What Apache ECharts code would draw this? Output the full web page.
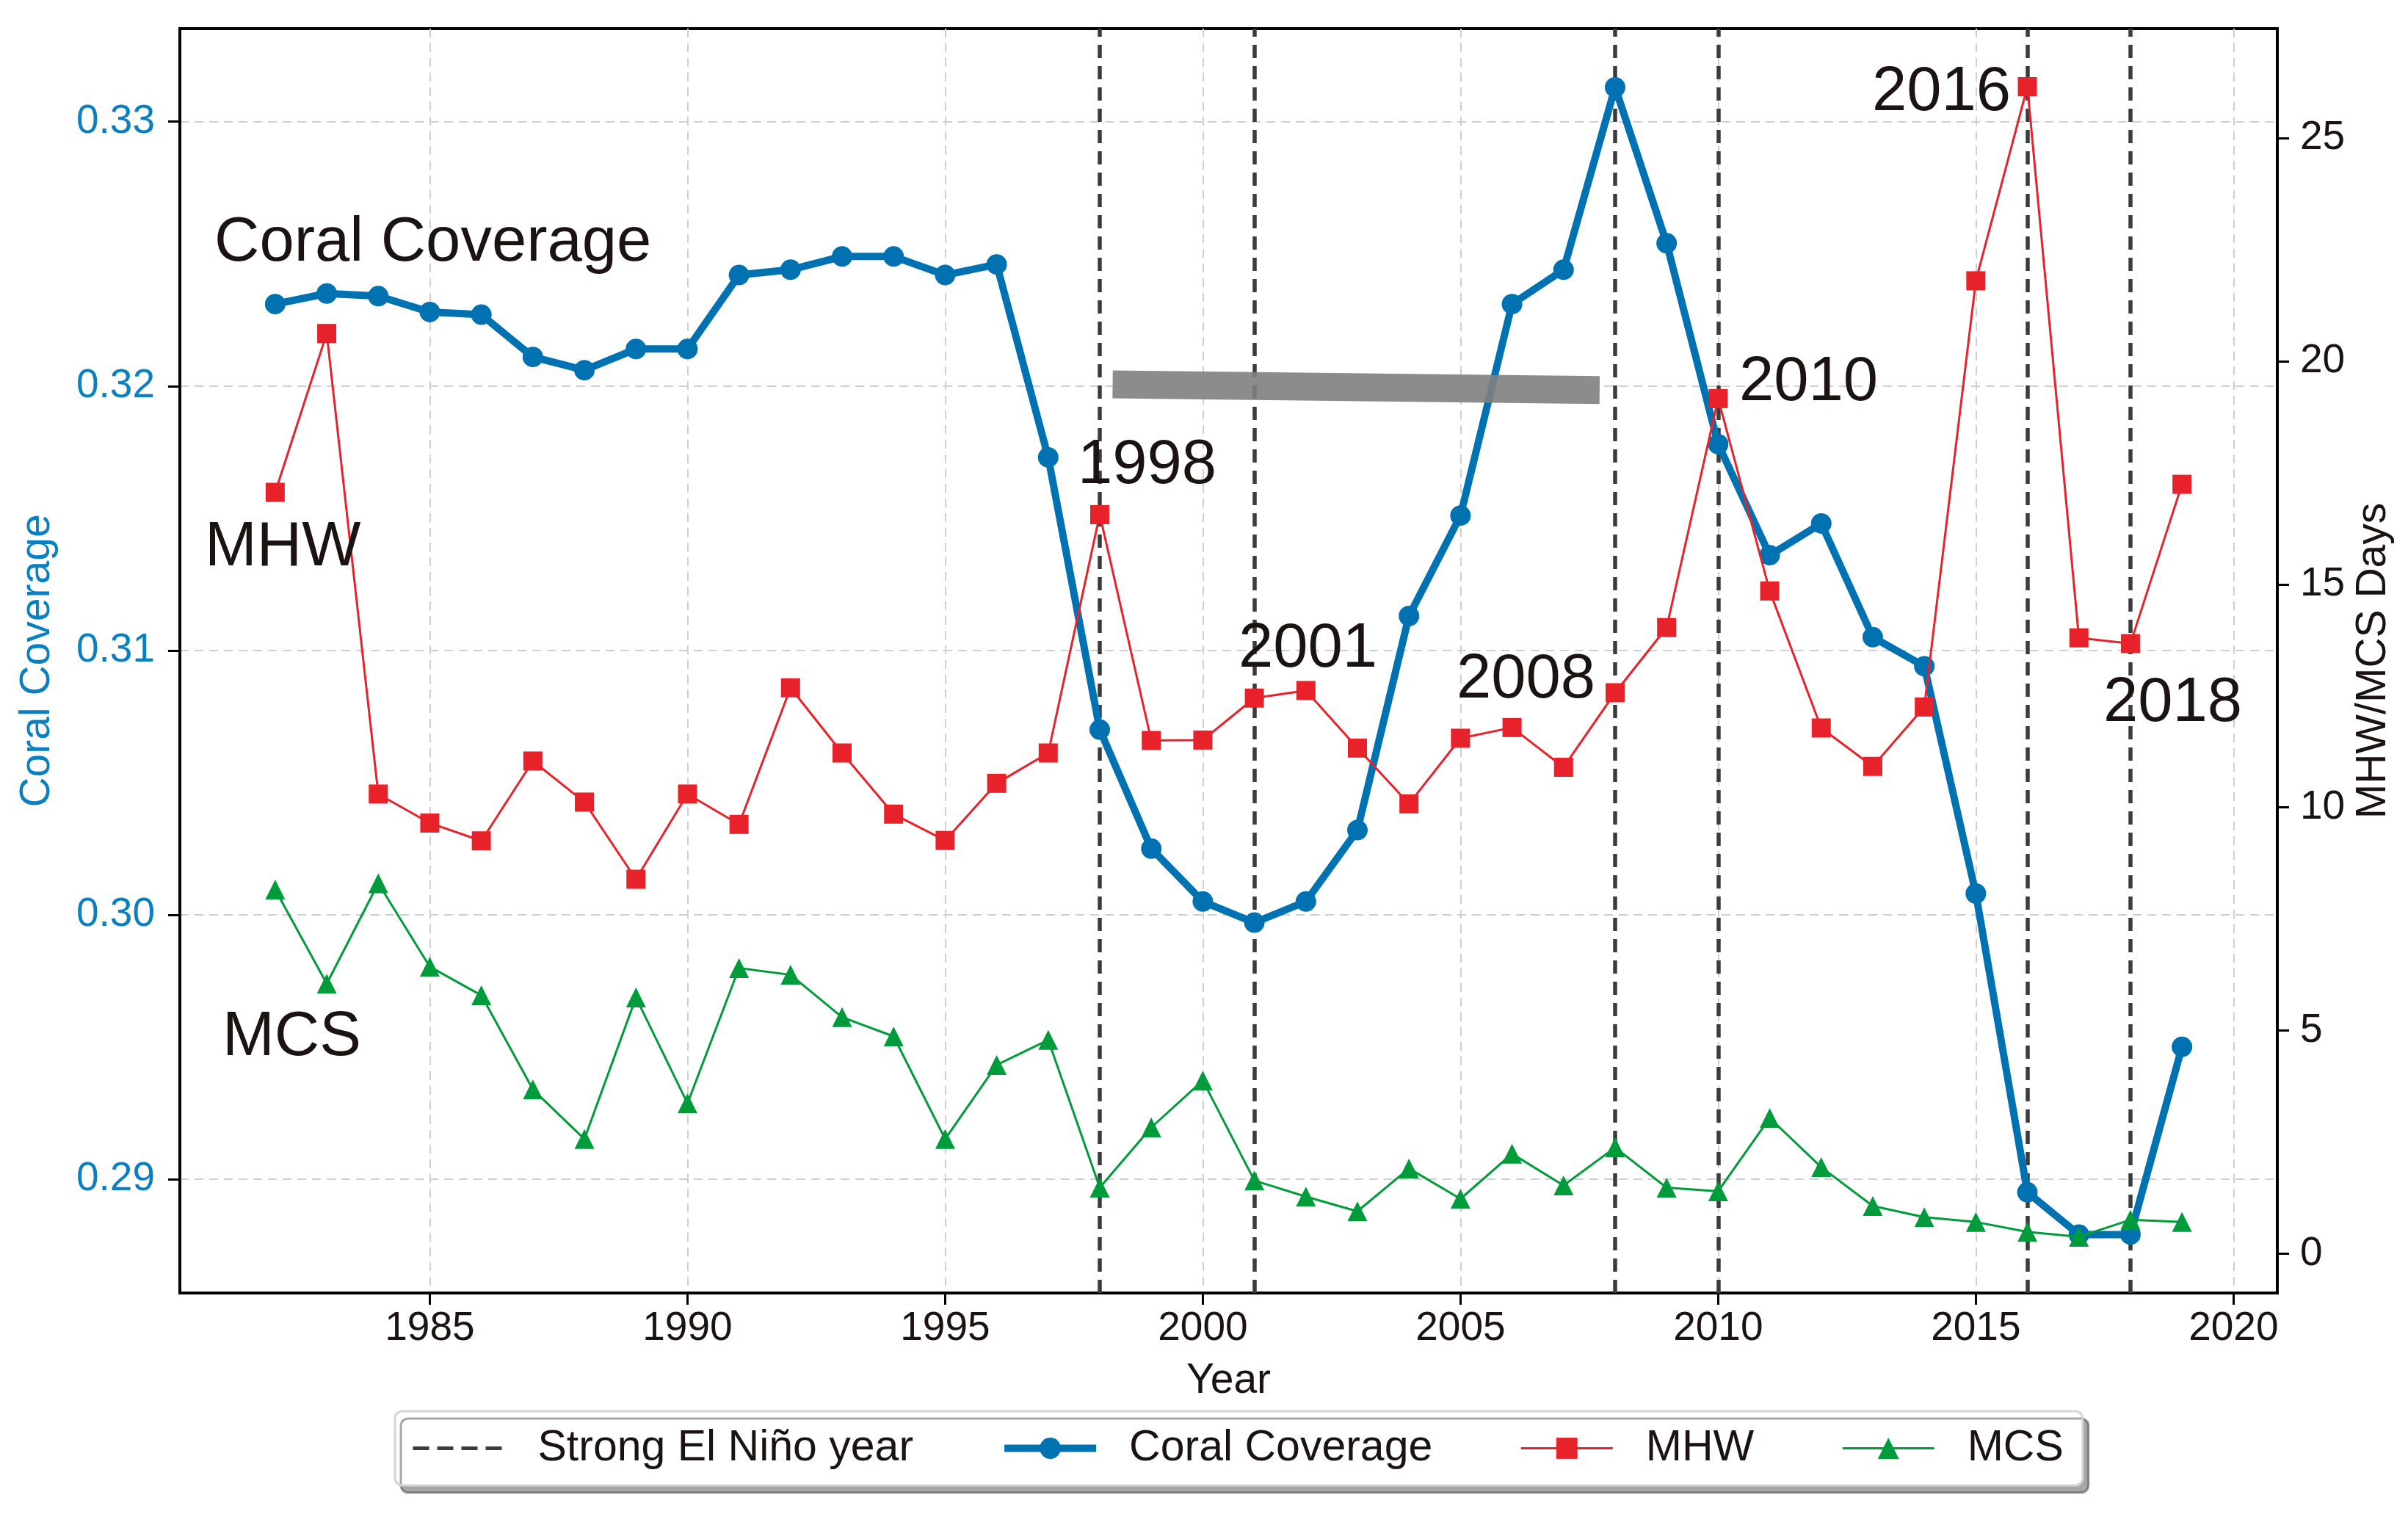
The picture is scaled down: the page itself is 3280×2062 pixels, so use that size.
<!DOCTYPE html>
<html>
<head>
<meta charset="utf-8">
<title>Coral Coverage, MHW and MCS</title>
<script src="https://cdn.jsdelivr.net/npm/echarts@6/dist/echarts.min.js"></script>
<style>
	html, body { margin: 0; padding: 0; background: #fff; }
	#chart { width: 3280px; height: 2062px; }
</style>
</head>
<body>
<div id="chart"></div>
<script>
var years = [1982,1983,1984,1985,1986,1987,1988,1989,1990,1991,1992,1993,1994,1995,1996,1997,1998,1999,
	2000,2001,2002,2003,2004,2005,2006,2007,2008,2009,2010,2011,2012,2013,2014,2015,2016,2017,2018,2019];

var coralCoverage = [0.3231,0.3235,0.3234,0.3228,0.3227,0.3211,0.3206,0.3214,0.3214,0.3242,0.3244,0.3249,0.3249,0.3242,0.3246,0.3173,0.3070,0.3025,
	0.3005,0.2997,0.3005,0.3032,0.3113,0.3151,0.3231,0.3244,0.3313,0.3254,0.3178,0.3136,0.3148,0.3105,0.3094,0.3008,0.2895,0.2879,0.2879,0.2950];

var mhwDays = [17.06,20.62,10.30,9.65,9.25,11.04,10.12,8.39,10.30,9.62,12.68,11.22,9.85,9.26,10.54,11.22,16.56,11.50,
	11.51,12.45,12.62,11.33,10.08,11.55,11.79,10.90,12.57,14.03,19.16,14.85,11.78,10.92,12.25,21.80,26.15,13.80,13.67,17.24];

var mcsDays = [8.16,6.05,8.30,6.43,5.79,3.68,2.57,5.74,3.37,6.40,6.25,5.30,4.87,2.57,4.23,4.79,1.48,2.83,
	3.88,1.64,1.28,0.95,1.91,1.23,2.24,1.53,2.38,1.48,1.40,3.04,1.94,1.07,0.82,0.71,0.49,0.38,0.76,0.71];

var elNinoYears = [1998,2001,2008,2010,2016,2018];

// grey bar drawn across the plot: [year, coral coverage] at each end
var greyBar = [[1998.25,0.32006],[2007.7,0.31985]];

var yearTicks = [1985,1990,1995,2000,2005,2010,2015,2020];
var coralTicks = [0.29,0.30,0.31,0.32,0.33];
var daysTicks = [0,5,10,15,20,25];

var COLOR = {
	CORAL:'#0072B2',
	CORAL_TEXT:'#0A80C0',
	MHW:'#E8222A',
	MCS:'#009B3A',
	ELNINO:'#3C3C3C',
	GRID:'#CFCFCF',
	TEXT:'#1A1311'
};

var FONT = 'Liberation Sans, Arial, sans-serif';

function pairs(xs, ys){
	var out = [];
	for(var i = 0; i < xs.length; i++){
		out.push([xs[i], ys[i]]);
	}
	return out;
}

function annotation(text, x, y){
	return {
		type:'text',
		left:x,
		top:y - 38,
		z:50,
		style:{
			text:text,
			fontSize:85,
			fontFamily:FONT,
			fill:COLOR.TEXT
		}
	};
}

var myChart = echarts.init(document.getElementById('chart'));

var axisLineStyle = { show:true, onZero:false, lineStyle:{ color:'#000', width:4 } };
var gridLine = { show:true, lineStyle:{ color:COLOR.GRID, width:2, type:[12,8] } };

myChart.setOption({
	animation:false,
	backgroundColor:'#fff',
	textStyle:{ fontFamily:FONT },
	grid:{
		left:245,
		right:178,
		top:39,
		bottom:301,
		show:true,
		borderColor:'#000',
		borderWidth:4,
		backgroundColor:'transparent'
	},
	legend:{
		left:538,
		top:1922,
		orient:'horizontal',
		padding:[21,26,21,22],
		itemWidth:125,
		itemHeight:36,
		itemGap:119,
		textStyle:{ fontSize:59, color:COLOR.TEXT, fontFamily:FONT, padding:[0,0,0,40] },
		backgroundColor:'#fff',
		borderColor:'#D4D4D4',
		borderWidth:3,
		borderRadius:10,
		shadowColor:'rgba(0,0,0,0.35)',
		shadowOffsetX:8,
		shadowOffsetY:10,
		shadowBlur:0,
		data:[
			{ name:'Strong El Niño year', itemStyle:{ color:'rgba(0,0,0,0)', borderWidth:0 }, lineStyle:{ width:5, type:[22,11] } },
			{ name:'Coral Coverage', lineStyle:{ width:10 } },
			{ name:'MHW', lineStyle:{ width:3 } },
			{ name:'MCS', lineStyle:{ width:3 } }
		]
	},
	xAxis:{
		type:'value',
		min:1980.15,
		max:2020.85,
		minInterval:5,
		maxInterval:5,
		name:'Year',
		nameLocation:'middle',
		nameGap:92,
		nameTextStyle:{ fontSize:57, color:COLOR.TEXT },
		axisLine:axisLineStyle,
		axisTick:{ show:true, inside:false, length:16, lineStyle:{ color:'#000', width:3 }, customValues:yearTicks },
		axisLabel:{ fontSize:55, color:COLOR.TEXT, margin:21, customValues:yearTicks, formatter:function(v){ return String(v); } },
		splitLine:gridLine
	},
	yAxis:[
		{
			type:'value',
			position:'left',
			min:0.28569,
			max:0.33352,
			minInterval:0.01,
			maxInterval:0.01,
			name:'Coral Coverage',
			nameLocation:'middle',
			nameRotate:90,
			nameGap:165,
			nameTextStyle:{ fontSize:57, color:COLOR.CORAL_TEXT },
			axisLine:axisLineStyle,
			axisTick:{ show:true, inside:false, length:16, lineStyle:{ color:'#000', width:3 }, customValues:coralTicks },
			axisLabel:{ fontSize:55, color:COLOR.CORAL_TEXT, margin:34, customValues:coralTicks, formatter:function(v){ return v.toFixed(2); } },
			splitLine:gridLine
		},
		{
			type:'value',
			position:'right',
			min:-0.88,
			max:27.45,
			minInterval:5,
			maxInterval:5,
			name:'MHW/MCS Days',
			nameLocation:'middle',
			nameRotate:90,
			nameGap:100,
			nameTextStyle:{ fontSize:57, color:COLOR.TEXT },
			axisLine:axisLineStyle,
			axisTick:{ show:true, inside:false, length:16, lineStyle:{ color:'#000', width:3 }, customValues:daysTicks },
			axisLabel:{ fontSize:55, color:COLOR.TEXT, margin:31, customValues:daysTicks },
			splitLine:{ show:false }
		}
	],
	series:[
		{
			name:'Strong El Niño year',
			type:'line',
			yAxisIndex:1,
			data:[],
			symbol:'none',
			z:1,
			lineStyle:{ color:COLOR.ELNINO, width:5, type:[18,11] },
			itemStyle:{ color:COLOR.ELNINO },
			markLine:{
				silent:true,
				z:1,
				symbol:['none','none'],
				label:{ show:false },
				lineStyle:{ color:COLOR.ELNINO, width:5.5, type:[18,11] },
				emphasis:{ disabled:true },
				data:elNinoYears.map(function(y){ return { xAxis:y }; })
			}
		},
		{
			name:'Coral Coverage',
			type:'line',
			yAxisIndex:0,
			data:pairs(years, coralCoverage),
			z:2,
			symbol:'circle',
			symbolSize:28,
			lineStyle:{ color:COLOR.CORAL, width:10 },
			itemStyle:{ color:COLOR.CORAL },
			markLine:{
				silent:true,
				z:4,
				symbol:['none','none'],
				label:{ show:false },
				lineStyle:{ color:'#808080', width:38, type:'solid', opacity:0.9 },
				emphasis:{ disabled:true },
				data:[[{ coord:greyBar[0] }, { coord:greyBar[1] }]]
			}
		},
		{
			name:'MHW',
			type:'line',
			yAxisIndex:1,
			data:pairs(years, mhwDays),
			z:3,
			symbol:'rect',
			symbolSize:26,
			lineStyle:{ color:COLOR.MHW, width:3 },
			itemStyle:{ color:COLOR.MHW }
		},
		{
			name:'MCS',
			type:'line',
			yAxisIndex:1,
			data:pairs(years, mcsDays),
			z:3,
			symbol:'triangle',
			symbolSize:27,
			lineStyle:{ color:COLOR.MCS, width:3 },
			itemStyle:{ color:COLOR.MCS }
		}
	],
	graphic:[
		annotation('Coral Coverage', 292, 327),
		annotation('MHW', 279, 742),
		annotation('MCS', 303, 1409),
		annotation('1998', 1468, 630),
		annotation('2001', 1687, 880),
		annotation('2008', 1984, 922),
		annotation('2010', 2369, 517),
		annotation('2016', 2550, 122),
		annotation('2018', 2865, 954)
	]
});
</script>
</body>
</html>
